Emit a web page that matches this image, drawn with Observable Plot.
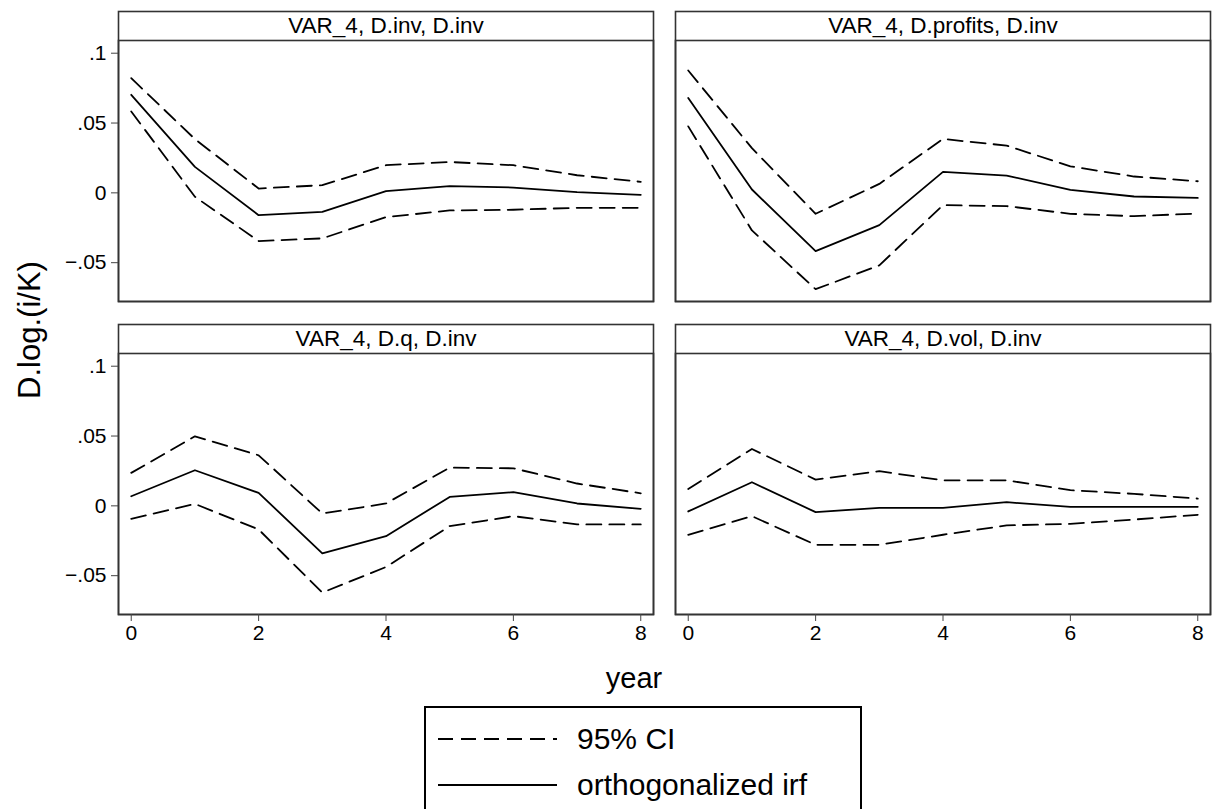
<!DOCTYPE html>
<html>
<head>
<meta charset="utf-8">
<script src="https://cdn.jsdelivr.net/npm/d3@7"></script>
<script src="https://cdn.jsdelivr.net/npm/@observablehq/plot@0.6"></script>
<style>
  body { margin: 0; background: #fff; }
  #wrap { position: relative; width: 1219px; height: 809px; overflow: hidden;
          font-family: "Liberation Sans", Arial, Helvetica, sans-serif; color: #000; background: #fff; }
  #chart { position: absolute; left: 0; top: 0; }
  .ylab { position: absolute; left: 30px; top: 330px; transform: translate(-50%, -50%) rotate(-90deg);
          font-size: 31px; white-space: nowrap; }
  .xlab { position: absolute; left: 634px; top: 678px; transform: translate(-50%, -50%); font-size: 29px; white-space: nowrap; }
  .legend { position: absolute; left: 424px; top: 706px; width: 438px; height: 140px;
            border: 2px solid #000; box-sizing: border-box; background: #fff; }
  .legend .row { position: absolute; left: 0; height: 40px; width: 100%; }
  .legend svg { position: absolute; left: 12px; top: 0; }
  .legend span { position: absolute; left: 151px; top: 50%; transform: translateY(-50%); font-size: 30px; white-space: nowrap; }
</style>
</head>
<body>
<div id="wrap">
  <div id="chart"></div>
  <div class="ylab" id="ylab"></div>
  <div class="xlab" id="xlab"></div>
  <div class="legend" id="legend"></div>
</div>
<script>
// ---- data ----
const steps = [0, 1, 2, 3, 4, 5, 6, 7, 8];
const panelTitles = ["VAR_4, D.inv, D.inv", "VAR_4, D.profits, D.inv", "VAR_4, D.q, D.inv", "VAR_4, D.vol, D.inv"];
const panelCol = [0, 1, 0, 1];
const panelRow = [0, 0, 1, 1];

const irfInv = [0.0702, 0.0186, -0.0160, -0.0136, 0.0012, 0.0048, 0.0038, 0.0005, -0.0014];
const hiInv  = [0.0821, 0.0385, 0.0031, 0.0055, 0.0198, 0.0221, 0.0198, 0.0126, 0.0079];
const loInv  = [0.0583, -0.0028, -0.0345, -0.0326, -0.0174, -0.0126, -0.0121, -0.0107, -0.0107];

const irfProf = [0.0679, 0.0024, -0.0417, -0.0231, 0.0150, 0.0124, 0.0021, -0.0026, -0.0036];
const hiProf  = [0.0876, 0.0320, -0.0150, 0.0064, 0.0386, 0.0338, 0.0190, 0.0117, 0.0083];
const loProf  = [0.0476, -0.0269, -0.0690, -0.0519, -0.0088, -0.0095, -0.0150, -0.0167, -0.0148];

const irfQ = [0.0069, 0.0255, 0.0093, -0.0340, -0.0217, 0.0064, 0.0098, 0.0017, -0.0021];
const hiQ  = [0.0236, 0.0498, 0.0362, -0.0055, 0.0017, 0.0274, 0.0269, 0.0160, 0.0090];
const loQ  = [-0.0093, 0.0014, -0.0169, -0.0621, -0.0438, -0.0145, -0.0074, -0.0133, -0.0133];

const irfVol = [-0.0040, 0.0169, -0.0045, -0.0014, -0.0014, 0.0026, -0.0007, -0.0007, -0.0007];
const hiVol  = [0.0121, 0.0407, 0.0188, 0.0248, 0.0183, 0.0183, 0.0112, 0.0086, 0.0052];
const loVol  = [-0.0207, -0.0074, -0.0279, -0.0279, -0.0207, -0.0140, -0.0129, -0.0098, -0.0064];

const xTicks = [0, 2, 4, 6, 8];
const yTicks = [-0.05, 0, 0.05, 0.1];
const yTickLabels = ["\u2212.05", "0", ".05", ".1"];

const yLabel = "D.log.(i/K)";
const xLabel = "year";
const legendLabels = ["95% CI", "orthogonalized irf"];

// ---- build table ----
const irfs = [irfInv, irfProf, irfQ, irfVol];
const his = [hiInv, hiProf, hiQ, hiVol];
const los = [loInv, loProf, loQ, loVol];
const rows = [];
panelTitles.forEach((t, p) => {
  steps.forEach((s, i) => {
    rows.push({col: panelCol[p], row: panelRow[p], step: s, irf: irfs[p][i], hi: his[p][i], lo: los[p][i]});
  });
});
const titles = panelTitles.map((t, p) => ({col: panelCol[p], row: panelRow[p], title: t}));

const frameColor = "#333";
const dash = "15,8";
const chart = Plot.plot({
  width: 1219,
  height: 700,
  marginLeft: 117,
  marginRight: 8,
  marginTop: 39,
  marginBottom: 85,
  style: {fontFamily: "'Liberation Sans', Arial, Helvetica, sans-serif", fontSize: "21px", color: "#000", background: "#fff", overflow: "visible"},
  fx: {domain: [0, 1], paddingInner: 0.0394, paddingOuter: 0, axis: null},
  fy: {domain: [0, 1], paddingInner: 0.1656, paddingOuter: 0, axis: null},
  x: {domain: [-0.2, 8.2], label: null},
  y: {domain: [-0.0778, 0.1091], label: null},
  marks: [
    Plot.frame({insetTop: -29, stroke: frameColor, strokeWidth: 1.6, fill: "#fff"}),
    Plot.frame({stroke: frameColor, strokeWidth: 1.6}),
    Plot.axisX({ticks: xTicks, tickSize: 7, tickPadding: 4, label: null, fontSize: 21, stroke: "#444",
                tickFormat: d => String(d)}),
    Plot.axisY({ticks: yTicks, tickSize: 7, tickPadding: 5, label: null, fontSize: 21, stroke: "#444",
                tickFormat: d => yTickLabels[yTicks.indexOf(d)]}),
    Plot.line(rows, {x: "step", y: "hi", fx: "col", fy: "row", stroke: "#000", strokeWidth: 1.8, strokeDasharray: dash}),
    Plot.line(rows, {x: "step", y: "lo", fx: "col", fy: "row", stroke: "#000", strokeWidth: 1.8, strokeDasharray: dash}),
    Plot.line(rows, {x: "step", y: "irf", fx: "col", fy: "row", stroke: "#000", strokeWidth: 1.8}),
    Plot.text(titles, {fx: "col", fy: "row", text: "title", frameAnchor: "top", lineAnchor: "middle", dy: -14.5, fontSize: 22.5, fill: "#000"})
  ]
});
document.getElementById("chart").appendChild(chart);
document.getElementById("ylab").textContent = yLabel;
document.getElementById("xlab").textContent = xLabel;

// legend
const leg = document.getElementById("legend");
const dashes = ["15,8", null];
const rowTops = [11, 57];
legendLabels.forEach((lab, i) => {
  const r = document.createElement("div");
  r.className = "row";
  r.style.top = rowTops[i] + "px";
  const sw = d3.create("svg").attr("width", 122).attr("height", 40);
  sw.append("line").attr("x1", 0).attr("x2", 119).attr("y1", 20).attr("y2", 20)
    .attr("stroke", "#000").attr("stroke-width", 2).attr("stroke-dasharray", dashes[i]);
  r.appendChild(sw.node());
  const sp = document.createElement("span");
  sp.textContent = lab;
  r.appendChild(sp);
  leg.appendChild(r);
});
</script>
</body>
</html>
